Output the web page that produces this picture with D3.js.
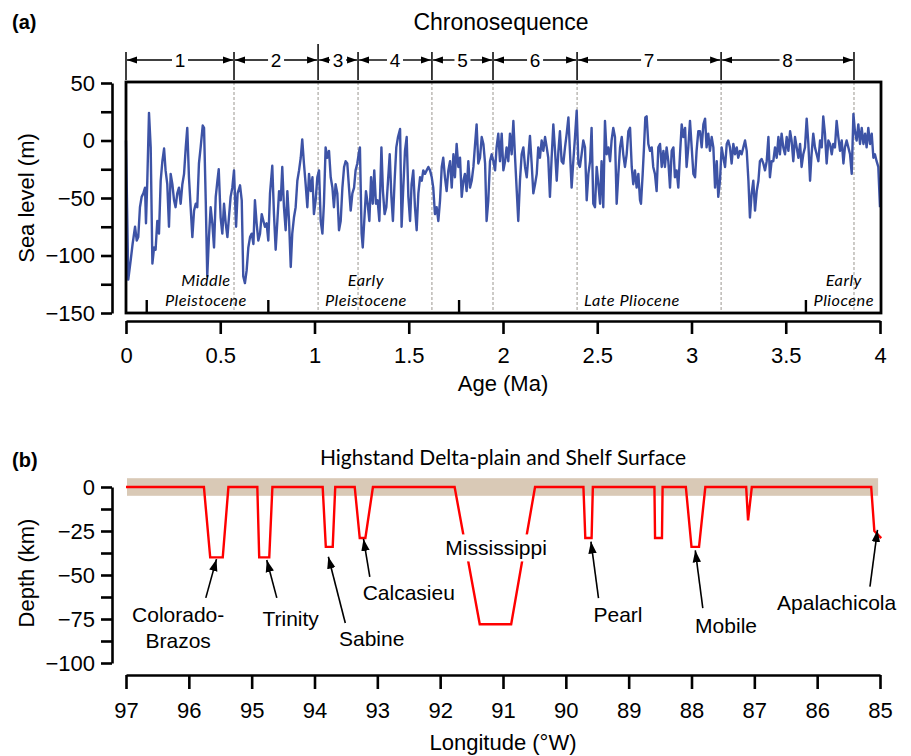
<!DOCTYPE html>
<html>
<head>
<meta charset="utf-8">
<script src="https://cdn.jsdelivr.net/npm/d3@7"></script>
<style>
  body { margin: 0; background: #fff; }
  text { font-family: "Liberation Sans", Arial, sans-serif; fill: #000; }
</style>
</head>
<body>
<svg id="chart" width="911" height="756"></svg>
<script>
// ---------- panel (a): sea level chronosequence ----------
const ageMa = [
  0.000,0.012,0.025,0.035,0.048,0.057,0.065,0.074,0.083,0.092,
  0.101,0.106,0.113,0.122,0.131,0.140,0.149,0.157,0.166,0.175,
  0.184,0.193,0.202,0.210,0.219,0.228,0.237,0.246,0.255,0.263,
  0.272,0.281,0.290,0.299,0.308,0.317,0.325,0.334,0.343,0.352,
  0.361,0.370,0.378,0.387,0.396,0.407,0.414,0.423,0.431,0.440,
  0.449,0.458,0.467,0.476,0.485,0.492,0.502,0.511,0.520,0.529,
  0.538,0.546,0.555,0.564,0.573,0.584,0.592,0.605,0.614,0.622,
  0.631,0.640,0.649,0.658,0.667,0.676,0.684,0.693,0.702,0.711,
  0.720,0.729,0.737,0.746,0.755,0.764,0.776,0.785,0.794,0.803,
  0.812,0.821,0.829,0.838,0.847,0.856,0.865,0.874,0.882,0.891,
  0.900,0.909,0.918,0.927,0.935,0.944,0.953,0.962,0.971,0.980,
  0.989,0.997,1.006,1.015,1.024,1.033,1.042,1.050,1.059,1.068,
  1.077,1.086,1.095,1.103,1.112,1.121,1.130,1.139,1.148,1.157,
  1.165,1.174,1.183,1.192,1.201,1.210,1.218,1.227,1.236,
  1.241,1.250,1.256,1.264,1.273,1.282,1.291,1.300,1.309,1.317,
  1.326,1.335,1.344,1.355,1.363,1.372,1.381,1.390,1.399,1.408,
  1.416,1.425,1.434,1.443,1.454,1.462,1.471,1.480,1.489,1.498,
  1.507,1.515,1.524,1.533,1.542,1.551,1.560,1.569,1.577,1.586,
  1.595,1.604,1.613,1.622,1.630,1.639,1.648,1.657,1.666,1.675,
  1.683,1.692,1.701,1.710,1.719,1.728,1.737,1.745,1.754,1.763,
  1.772,1.781,1.790,1.798,1.807,1.816,1.825,1.834,1.843,1.851,
  1.860,1.869,1.878,1.887,1.896,1.905,1.913,1.922,1.931,1.940,
  1.949,1.958,1.966,1.975,1.984,1.993,2.002,2.011,2.019,2.028,
  2.037,2.046,2.055,2.064,2.073,2.081,2.090,2.099,2.108,2.117,
  2.126,2.134,2.143,2.152,2.161,2.170,2.179,2.187,2.196,2.205,
  2.214,2.223,2.232,2.240,2.249,2.258,2.267,2.276,2.285,2.294,
  2.302,2.311,2.320,2.329,2.338,2.347,
  2.364,2.373,2.382,2.391,2.400,2.408,2.417,2.426,2.435,2.444,
  2.453,2.462,2.470,2.479,2.488,2.497,2.506,2.515,2.523,2.532,
  2.541,2.550,2.559,2.568,2.576,2.585,2.594,2.603,2.612,2.621,
  2.630,2.638,2.647,2.656,2.665,2.674,2.683,2.691,2.700,2.709,
  2.718,2.727,2.732,2.741,2.748,2.755,2.762,2.771,2.780,2.789,
  2.797,2.806,2.815,2.824,2.833,2.842,2.851,2.859,2.868,2.877,
  2.886,2.895,2.904,2.912,2.921,2.930,2.939,2.948,2.957,2.966,
  2.974,2.983,2.992,3.001,3.010,3.019,3.027,3.036,3.045,3.054,
  3.063,3.072,3.080,3.089,3.098,3.107,3.116,3.125,3.134,3.142,
  3.151,3.160,3.169,3.178,3.187,3.195,3.204,3.213,3.222,3.231,
  3.240,3.248,3.257,3.266,3.275,3.284,3.293,3.302,3.310,3.319,
  3.328,3.337,3.346,3.355,3.363,3.372,3.381,3.390,3.399,3.408,
  3.416,3.425,3.434,3.443,3.452,3.461,3.469,3.478,3.487,3.496,
  3.505,3.514,3.523,3.531,3.540,3.549,3.558,3.567,3.576,3.584,
  3.593,3.602,3.611,3.620,3.629,3.637,3.646,3.655,3.664,3.673,
  3.682,3.691,3.699,3.708,3.717,3.726,3.735,3.744,3.752,3.761,
  3.770,3.779,3.788,3.797,3.806,3.814,3.823,3.832,3.841,3.850,
  3.859,3.867,3.876,3.885,3.894,3.903,3.912,3.921,3.929,3.938,
  3.947,3.956,3.965,3.973,3.982,3.991,4.000
];
const seaLevelM = [
  0,-121,-104,-90,-75,-87,-84,-58,-49,-46,
  -41,-72,-35,24,-6,-107,-93,-95,-70,-81,
  -35,-18,-7,-26,-38,-75,-29,-38,-52,-58,
  -46,-41,-55,-38,-29,-6,11,-32,-58,-84,
  -61,-55,-58,-20,-6,13,11,-52,-118,-84,
  -58,-72,-93,-49,-35,-25,-67,-81,-55,-72,
  -84,-67,-49,-41,-26,-75,-46,-39,-52,-118,
  -124,-113,-93,-84,-81,-90,-52,-72,-87,-81,
  -64,-70,-75,-72,-87,-46,-22,-64,-95,-70,
  -44,-52,-23,-58,-78,-44,-70,-110,-81,-67,
  -58,-35,-26,-15,1,-20,-38,-58,-29,-44,
  -32,-64,-52,-32,-26,-70,-81,-55,-6,-15,
  -9,-32,-41,-58,-38,-46,-78,-70,-41,-23,
  -18,-20,-41,-61,-46,-41,-26,-20,-10,
  -6,-81,-93,-70,-44,-55,-70,-32,-55,-26,
  -55,-52,-70,-6,-44,-64,-58,-35,-12,-49,
  -70,-35,-6,3,10,-75,-41,-9,3,-49,
  -70,-38,-26,-58,-78,-46,-32,-35,-26,-29,
  -26,-23,-26,-32,-41,-64,-58,-70,-52,-23,
  -15,-32,-44,-26,-18,-41,-12,-32,-3,-23,
  -15,-49,-35,-29,-44,-18,-41,-35,-23,-5,
  14,-20,-15,3,-3,-20,-70,-52,-18,-12,
  -18,-26,-6,6,-18,6,-26,-18,-6,-18,
  6,-12,17,-15,-44,-70,-35,-12,-6,-23,
  -32,-15,4,-20,-46,-38,-29,-6,-15,0,
  -9,3,-6,-15,-49,-15,14,-9,-35,-9,
  8,-18,-20,-6,6,20,
  -41,-18,3,26,-20,-23,-12,0,-6,-52,
  -29,-18,11,-55,-58,-23,-38,-55,-18,-58,
  17,-12,-6,-18,0,11,3,-55,-29,-6,
  3,-12,-23,-12,8,11,-23,-38,-26,-41,
  -29,-52,-55,-29,-6,20,21,-3,-9,-6,
  -23,-29,-44,-6,-3,-23,-9,-23,-6,-18,
  -41,-9,-6,-32,-26,-41,-12,14,3,11,
  -23,-6,17,-6,-29,-32,-9,8,8,-6,
  14,19,-6,6,-9,3,-6,-41,-18,-49,
  -35,-6,-15,-23,-3,0,-6,-20,-3,-12,
  -6,-15,-9,-12,-6,0,-9,-35,-67,-46,
  -35,-61,-44,-35,-18,-16,-20,-26,-18,3,
  -32,-18,-18,-6,-15,3,-12,6,-6,-12,
  3,-9,8,0,-18,3,-6,-15,-3,-23,
  -12,-6,19,-3,-35,-12,6,-6,-12,-18,
  0,-6,21,6,-20,0,-3,-12,-3,-6,
  17,3,-9,0,-20,-6,0,-6,-12,-29,
  23,8,0,14,-3,11,-3,6,-6,11,
  -3,6,-15,-12,-18,-23,-58
];
const seaTicks = [-150, -125, -100, -75, -50, -25, 0, 25, 50];
const ageTicks = [0, 0.5, 1, 1.5, 2, 2.5, 3, 3.5, 4];
const ageTickLabels = ["0", "0.5", "1", "1.5", "2", "2.5", "3", "3.5", "4"];

// chronosequence intervals (Ma) and their names
const stageBounds = [0, 0.573, 1.019, 1.231, 1.623, 1.947, 2.393, 3.157, 3.862];
const stageNames = ["1", "2", "3", "4", "5", "6", "7", "8"];

// epoch boundaries (Ma) and labels
const epochBounds = [0.11, 0.755, 1.767, 3.607];
const epochNames = [["Middle", "Pleistocene"], ["Early", "Pleistocene"], ["Late Pliocene"], ["Early", "Pliocene"]];
const epochLabelAge = [0.424, 1.273, 2.684, 3.808];

// ---------- panel (b): highstand surface profile ----------
const lonW = [97.0, 95.76, 95.66, 95.46, 95.37, 94.91, 94.88, 94.72, 94.67,
  93.87, 93.82, 93.71, 93.67, 93.36, 93.28, 93.19, 93.07,
  91.77, 91.37, 90.87, 90.49, 89.72, 89.69, 89.59, 89.57,
  88.59, 88.58, 88.47, 88.46, 88.09, 88.00, 87.88, 87.78,
  87.13, 87.10, 87.04, 85.14, 85.09, 84.98];
const depth = [0, 0, -40, -40, 0, 0, -40, -40, 0,
  0, -34, -34, 0, 0, -29, -29, 0,
  0, -78, -78, 0, 0, -29, -29, 0,
  0, -29, -29, 0, 0, -34, -34, 0,
  0, -19, 0, 0, -25, -29];
const lonTicks = [97, 96, 95, 94, 93, 92, 91, 90, 89, 88, 87, 86, 85];
const depthTicks = [-100, -87.5, -75, -62.5, -50, -37.5, -25, -12.5, 0];
const surfaceBand = [5, -5];

// river labels: text anchor and arrow tail / tip in (lon, depth)
const rivers = [
  { name: ["Colorado-", "Brazos"], lon: 96.17, d: -72.7, tail: [95.73, -63], tip: [95.56, -41] },
  { name: ["Trinity"], lon: 94.38, d: -75, tail: [94.60, -63], tip: [94.76, -41.5] },
  { name: ["Sabine"], lon: 93.09, d: -86.4, tail: [93.51, -77.3], tip: [93.78, -39.6] },
  { name: ["Calcasieu"], lon: 92.50, d: -60.2, tail: [93.12, -51.1], tip: [93.22, -29.5] },
  { name: ["Mississippi"], lon: 91.11, d: -34.7, box: true },
  { name: ["Pearl"], lon: 89.17, d: -72.7, tail: [89.48, -63.1], tip: [89.60, -31] },
  { name: ["Mobile"], lon: 87.45, d: -79, tail: [87.82, -68.8], tip: [87.94, -36] },
  { name: ["Apalachicola"], lon: 85.69, d: -65.7, tail: [85.16, -56.6], tip: [85.04, -24.4] }
];

const svg = d3.select("#chart");

const defs = svg.append("defs");
defs.append("marker")
  .attr("id", "head")
  .attr("viewBox", "0 0 12 12")
  .attr("refX", 12).attr("refY", 6)
  .attr("markerUnits", "userSpaceOnUse")
  .attr("markerWidth", 12).attr("markerHeight", 12)
  .attr("orient", "auto")
  .append("path").attr("d", "M0,1.8 L12,6 L0,10.2 Z").attr("fill", "#000");
defs.append("marker")
  .attr("id", "headSmall")
  .attr("viewBox", "0 0 10 8")
  .attr("refX", 10).attr("refY", 4)
  .attr("markerUnits", "userSpaceOnUse")
  .attr("markerWidth", 10).attr("markerHeight", 8)
  .attr("orient", "auto")
  .append("path").attr("d", "M0,0.6 L10,4 L0,7.4 Z").attr("fill", "#000");

function styleAxis(g) {
  g.select(".domain").attr("stroke", "#000").attr("stroke-width", 2.6);
  g.selectAll(".tick line").attr("stroke", "#000").attr("stroke-width", 2.6);
  g.selectAll(".tick text")
    .attr("font-size", 22)
    .attr("font-family", "'Liberation Sans', Arial, sans-serif")
    .attr("fill", "#000");
}

// ================= panel (a) =================
const x = d3.scaleLinear().domain([0, 4]).range([126, 880]);
const y = d3.scaleLinear().domain([-150, 50]).range([313, 83]);

svg.append("text").attr("x", 12).attr("y", 22).attr("dy", "0.35em")
  .attr("font-size", 20).attr("font-weight", "bold").text("(a)");
svg.append("text").attr("x", 501).attr("y", 22).attr("dy", "0.35em")
  .attr("text-anchor", "middle").attr("font-size", 23).text("Chronosequence");

// interval arrows above the frame
const gStage = svg.append("g");
stageBounds.forEach((b, i) => {
  gStage.append("line")
    .attr("x1", x(b)).attr("x2", x(b))
    .attr("y1", i === 2 ? 44 : 52).attr("y2", 80)
    .attr("stroke", "#000").attr("stroke-width", 1.5);
});
stageNames.forEach((name, i) => {
  const x0 = x(stageBounds[i]), x1 = x(stageBounds[i + 1]), xm = (x0 + x1) / 2;
  const gap = 8;
  gStage.append("line")
    .attr("x1", xm - gap).attr("x2", x0 + 1).attr("y1", 60).attr("y2", 60)
    .attr("stroke", "#000").attr("stroke-width", 1.4).attr("marker-end", "url(#headSmall)");
  gStage.append("line")
    .attr("x1", xm + gap).attr("x2", x1 - 1).attr("y1", 60).attr("y2", 60)
    .attr("stroke", "#000").attr("stroke-width", 1.4).attr("marker-end", "url(#headSmall)");
  gStage.append("text")
    .attr("x", xm).attr("y", 60).attr("dy", "0.35em")
    .attr("text-anchor", "middle").attr("font-size", 19).text(name);
});

// dashed interval boundaries
svg.append("g").selectAll("line")
  .data(stageBounds.slice(1))
  .join("line")
  .attr("x1", d => x(d)).attr("x2", d => x(d))
  .attr("y1", y(50) - 1).attr("y2", y(-150))
  .attr("stroke", "#9a968f").attr("stroke-width", 1)
  .attr("stroke-dasharray", "3,2");

// sea level curve
const seaData = ageMa.map((a, i) => ({ age: a, level: seaLevelM[i] }));
svg.append("path")
  .datum(seaData)
  .attr("fill", "none")
  .attr("stroke", "#3d53a6")
  .attr("stroke-width", 2.4)
  .attr("stroke-linejoin", "round")
  .attr("d", d3.line().x(d => x(d.age)).y(d => y(d.level)));

// epoch ticks and names
svg.append("g").selectAll("line")
  .data(epochBounds)
  .join("line")
  .attr("x1", d => x(d)).attr("x2", d => x(d))
  .attr("y1", y(-150)).attr("y2", y(-150) - 13)
  .attr("stroke", "#000").attr("stroke-width", 2.4);

epochNames.forEach((lines, i) => {
  lines.forEach((s, j) => {
    const rowY = lines.length === 1 ? 300 : (j === 0 ? 280.5 : 300.5);
    svg.append("text")
      .attr("x", x(epochLabelAge[i])).attr("y", rowY).attr("dy", "0.35em")
      .attr("text-anchor", "middle")
      .attr("font-size", 16.3)
      .attr("font-style", "italic")
      .attr("letter-spacing", 0.5)
      .style("font-family", "Lato, 'Open Sans', sans-serif")
      .text(s);
  });
});

// frame
svg.append("rect")
  .attr("x", x(0)).attr("y", y(50) - 1)
  .attr("width", x(4) - x(0) + 1).attr("height", y(-150) - y(50) + 1)
  .attr("fill", "none").attr("stroke", "#000").attr("stroke-width", 2.8);

// axes
svg.append("g")
  .attr("transform", "translate(112,0)")
  .call(d3.axisLeft(y).tickValues(seaTicks).tickSize(11).tickPadding(6).tickSizeOuter(0)
    .tickFormat(d => d % 50 === 0 ? d3.format("d")(d) : ""))
  .call(styleAxis);

svg.append("g")
  .attr("transform", "translate(0,321)")
  .call(d3.axisBottom(x).tickValues(ageTicks).tickSize(13).tickPadding(13).tickSizeOuter(0)
    .tickFormat((d, i) => ageTickLabels[i]))
  .call(styleAxis);

svg.append("text").attr("x", 503).attr("y", 383).attr("dy", "0.35em")
  .attr("text-anchor", "middle").attr("font-size", 22).text("Age (Ma)");
svg.append("text").attr("transform", "translate(26,198) rotate(-90)").attr("dy", "0.35em")
  .attr("text-anchor", "middle").attr("font-size", 22).text("Sea level (m)");

// ================= panel (b) =================
const xLon = d3.scaleLinear().domain([97, 85]).range([126, 880]);
const yDep = d3.scaleLinear().domain([-100, 0]).range([663, 487]);

svg.append("text").attr("x", 12).attr("y", 460).attr("dy", "0.35em")
  .attr("font-size", 20).attr("font-weight", "bold").text("(b)");

// shelf surface band
svg.append("rect")
  .attr("x", xLon(97) + 1).attr("y", yDep(surfaceBand[0]))
  .attr("width", xLon(85.03) - xLon(97) - 1)
  .attr("height", yDep(surfaceBand[1]) - yDep(surfaceBand[0]))
  .attr("fill", "#d9c9b6");

svg.append("text").attr("x", 503).attr("y", 458).attr("dy", "0.35em")
  .attr("text-anchor", "middle").attr("font-size", 21)
  .style("font-family", "Lato, 'Open Sans', sans-serif")
  .text("Highstand Delta-plain and Shelf Surface");

// depth profile
const profile = lonW.map((l, i) => ({ lon: l, d: depth[i] }));
svg.append("path")
  .datum(profile)
  .attr("fill", "none")
  .attr("stroke", "#ff0000")
  .attr("stroke-width", 2.4)
  .attr("stroke-linejoin", "miter")
  .attr("d", d3.line().x(d => xLon(d.lon)).y(d => yDep(d.d)));

// river labels and arrows
const gRiv = svg.append("g");
rivers.forEach(r => {
  const tx = xLon(r.lon), ty = yDep(r.d);
  if (r.box) {
    const t = gRiv.append("text").attr("x", tx).attr("y", ty).attr("dy", "0.35em")
      .attr("text-anchor", "middle").attr("font-size", 21).text(r.name[0]);
    const bb = t.node().getBBox();
    gRiv.insert("rect", "text")
      .attr("x", bb.x - 3).attr("y", bb.y - 2)
      .attr("width", bb.width + 6).attr("height", bb.height + 4)
      .attr("fill", "#fff");
    return;
  }
  r.name.forEach((s, j) => {
    gRiv.append("text").attr("x", tx).attr("y", ty + j * 25.5).attr("dy", "0.35em")
      .attr("text-anchor", "middle").attr("font-size", 21).text(s);
  });
  gRiv.append("line")
    .attr("x1", xLon(r.tail[0])).attr("y1", yDep(r.tail[1]))
    .attr("x2", xLon(r.tip[0])).attr("y2", yDep(r.tip[1]))
    .attr("stroke", "#000").attr("stroke-width", 1.6)
    .attr("marker-end", "url(#head)");
});

// axes
svg.append("g")
  .attr("transform", "translate(112,0)")
  .call(d3.axisLeft(yDep).tickValues(depthTicks).tickSize(11).tickPadding(6).tickSizeOuter(0)
    .tickFormat(d => d % 25 === 0 ? d3.format("d")(d) : ""))
  .call(styleAxis);

svg.append("g")
  .attr("transform", "translate(0,675)")
  .call(d3.axisBottom(xLon).tickValues(lonTicks).tickSize(14).tickPadding(13).tickSizeOuter(0)
    .tickFormat(d3.format("d")))
  .call(styleAxis);

svg.append("text").attr("x", 503).attr("y", 742).attr("dy", "0.35em")
  .attr("text-anchor", "middle").attr("font-size", 22).text("Longitude (°W)");
svg.append("text").attr("transform", "translate(26,573) rotate(-90)").attr("dy", "0.35em")
  .attr("text-anchor", "middle").attr("font-size", 22).text("Depth (km)");
</script>
</body>
</html>
